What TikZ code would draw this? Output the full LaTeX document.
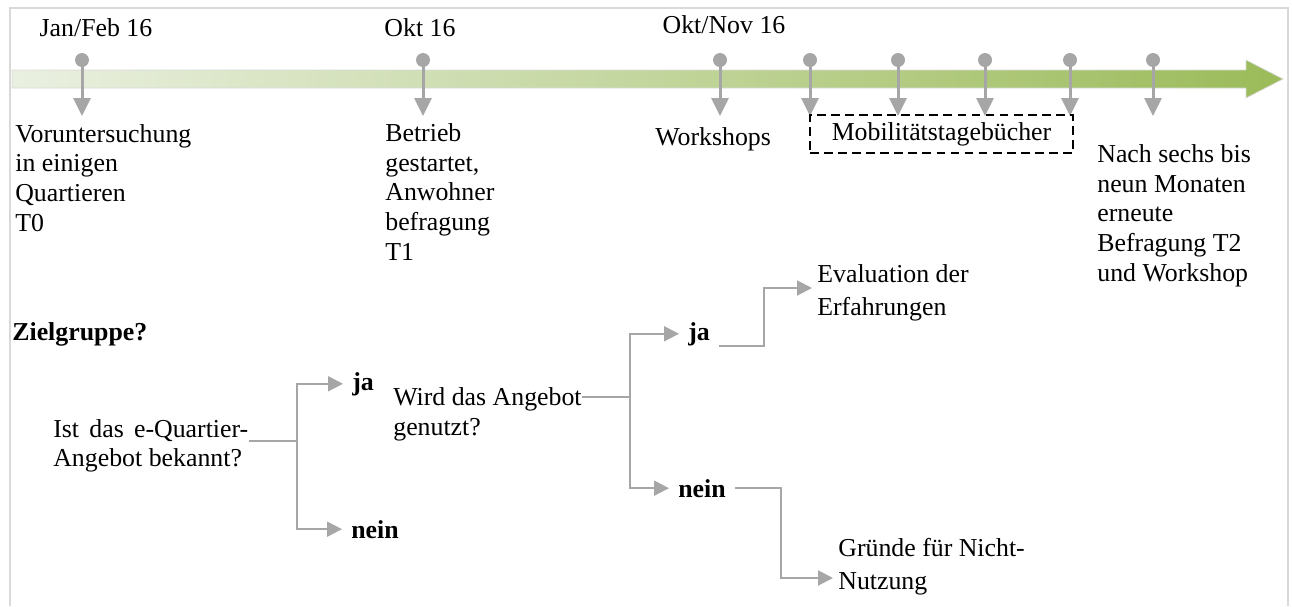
\documentclass[tikz,border=0pt]{standalone}
\usepackage{fontspec}
\setmainfont{Liberation Serif}
\usetikzlibrary{arrows.meta}
\definecolor{pingray}{RGB}{166,166,166}
\definecolor{framegray}{RGB}{217,217,217}
\definecolor{barlight}{RGB}{234,240,225}
\definecolor{bargreen}{RGB}{155,187,89}

\begin{document}
\begin{tikzpicture}[
    x=0.02cm, y=-0.02cm,
    txt/.style={font=\fontsize{14.7}{16.8}\selectfont, inner sep=0pt,
                align=left, anchor=base west},
    wide/.style={txt, font=\fontsize{14.7}{18.7}\selectfont},
    answer/.style={font=\fontsize{14.7}{16.8}\selectfont\bfseries,
                inner xsep=0.18cm, inner ysep=0pt, anchor=base west},
    date/.style={font=\fontsize{14.7}{16.8}\selectfont, inner sep=0pt, anchor=base},
    diarybox/.style={draw, line width=1pt, dash pattern=on 5pt off 3pt,
                minimum width=5.26cm, minimum height=0.76cm,
                font=\fontsize{14.7}{16.8}\selectfont},
    pin/.style={line width=0.06cm, pingray, -{Triangle[length=0.36cm,width=0.34cm]}},
    link/.style={line width=0.04cm, pingray},
    >={Triangle[length=0.3cm,width=0.3cm]}
  ]
    \useasboundingbox (0,0) rectangle (1292,606);
    \draw[framegray, line width=1.2pt] (10,606) -- (10,8) -- (1288,8) -- (1288,606);

    % time line
    \shade[left color=barlight, right color=bargreen, draw=black!15, line width=0.4pt]
      (12,70) -- (1246,70) -- (1246,60) -- (1283,79) -- (1246,98) -- (1246,88) -- (12,88) -- cycle;
    \foreach \px [count=\k] in {82,423,720,810,898,985,1070,1153}{
      \coordinate (top\k) at (\px,60);
      \coordinate (tip\k) at (\px,116);
      \fill[pingray] (top\k) circle (0.14cm);
      \draw[pin] (top\k) -- (tip\k);
    }

    \node[date] (d1) at (96,36) {Jan/Feb 16};
    \node[date] (d2) at (420,36) {Okt 16};
    \node[date] (d3) at (724,33) {Okt/Nov 16};

    % base anchor = last line
    \node[txt] (t0) at (15,231) {Voruntersuchung\\in einigen\\Quartieren\\T0};
    \node[txt] (t1) at (385,260) {Betrieb\\gestartet,\\Anwohner\\befragung\\T1};
    \node[txt] (ws) at (655,145) {Workshops};
    \node[diarybox] (diary) at (941.5,134) {Mobilitätstagebücher};
    \node[txt] (t2) at (1097,281) {Nach sechs bis\\neun Monaten\\erneute\\Befragung T2\\und Workshop};

    % decision tree
    \node[txt, font=\fontsize{14.7}{16.8}\selectfont\bfseries] (goal) at (12,340) {Zielgruppe?};
    \node[txt, text width=3.9cm, align=justify] (ask) at (53,437)
      {\hyphenpenalty=10000 Ist das e-Quartier-Angebot bekannt?};
    \node[answer] (ja1) at (343,390) {ja};
    \node[answer] (nein1) at (342,538) {nein};
    \node[txt] (use) at (393,435) {Wird das Angebot\\genutzt?};
    \node[answer] (ja2) at (679,340) {ja};
    \node[answer] (nein2) at (669,497) {nein};
    \node[wide] (eval) at (817,315) {Evaluation der\\Erfahrungen};
    \node[wide] (why) at (838,589) {Gründe für Nicht-\\Nutzung};

    \coordinate (f1) at (297,441);
    \coordinate (f2) at (630,397);
    \coordinate (f3) at (764,288);
    \coordinate (f4) at (781,578);
    \draw[link] (ask.east |- f1) -- (f1);
    \draw[link,->] (f1) |- (ja1.west);
    \draw[link,->] (f1) |- (nein1.west);
    \draw[link] (use.east |- f2) -- (f2);
    \draw[link,->] (f2) |- (ja2.west);
    \draw[link,->] (f2) |- (nein2.west);
    \draw[link,->,shorten >=1mm] (ja2.south east) -| (f3) -- (eval.west |- f3);
    \draw[link,->,shorten >=1mm] (nein2.east) -| (f4) -- (why.west |- f4);
  \end{tikzpicture}
\end{document}
